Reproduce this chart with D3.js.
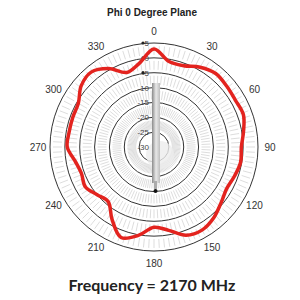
<!DOCTYPE html>
<html>
<head>
<meta charset="utf-8">
<script src="https://cdn.jsdelivr.net/npm/d3@7"></script>
<style>
  body { margin: 0; background: #fff; }
  svg { display: block; font-family: "Liberation Sans", Arial, sans-serif; }
</style>
</head>
<body>
<div id="chart"></div>
<script>
// gain (dB), every 10 degrees, clockwise from top
const angles = d3.range(0, 360, 10);
const gainDb = [
  3.0, -0.8, -0.9, 1.0, 2.3, 1.9, 1.6, 2.0, 0.6,
  -0.6, -0.4, -1.2, -1.8, -0.6, 1.2, 2.3, 1.6, -1.5,
  -3.0, 0.2, 2.4, -1.8, -6.0, -5.0, -3.3, -4.0, -3.0,
  -0.8, -1.0, -0.9, -0.6, 2.0, 2.9, 0.5, -3.3, -1.4
];
const ringValues = [5, 0, -5, -10, -15, -20, -25];
const ringLabels = ["5", "0", "-5", "-10", "-15", "-20", "-25", "-30"];
const angleLabels = d3.range(0, 360, 30);
const title = "Phi 0 Degree Plane";
const caption = "Frequency = 2170 MHz";

const width = 300, height = 300;
const cx = 154, cy = 147;

const svg = d3.select('#chart')
  .append('svg')
  .attr('width', width)
  .attr('height', height);

const r = d3.scaleLinear().domain([-30, 5]).range([0, 104]);
const rad = d => (d - 90) * Math.PI / 180;

const g = svg.append('g').attr('transform', `translate(${cx},${cy})`);

// light radial dashes in every band
const bands = d3.pairs([-30, ...ringValues.slice().reverse()]);
d3.range(0, 360, 3).forEach(a => {
  bands.forEach(([lo, hi]) => {
    const r0 = r(lo) + 3, r1 = r(hi) - 3;
    if (r1 <= r0 || r0 < 8) return;
    g.append('line')
      .attr('x1', r0 * Math.cos(rad(a))).attr('y1', r0 * Math.sin(rad(a)))
      .attr('x2', r1 * Math.cos(rad(a))).attr('y2', r1 * Math.sin(rad(a)))
      .attr('stroke', '#d4d4d4')
      .attr('stroke-width', 0.8);
  });
});

// rings
g.selectAll('circle.ring')
  .data(ringValues)
  .enter()
  .append('circle')
  .attr('class', 'ring')
  .attr('r', d => r(d))
  .attr('fill', 'none')
  .attr('stroke', '#333')
  .attr('stroke-width', 1);

// antenna picture in the middle
const grad = svg.append('defs').append('linearGradient')
  .attr('id', 'rod').attr('x1', '0').attr('x2', '1');
grad.append('stop').attr('offset', '0').attr('stop-color', '#8a8a8a');
grad.append('stop').attr('offset', '0.5').attr('stop-color', '#e8e8e8');
grad.append('stop').attr('offset', '1').attr('stop-color', '#bdbdbd');

g.append('circle').attr('cx', 6).attr('cy', 8).attr('r', 14)
  .attr('fill', '#ececec').attr('opacity', 0.8);
g.append('rect')
  .attr('x', -2).attr('y', -64).attr('width', 8).attr('height', 100)
  .attr('fill', 'url(#rod)');
g.append('rect')
  .attr('x', 0).attr('y', 34).attr('width', 3).attr('height', 8)
  .attr('fill', '#aaa');
g.append('circle').attr('cx', 1.5).attr('cy', 44).attr('r', 2).attr('fill', '#111');

// ring labels along the top axis
g.selectAll('text.rl')
  .data(ringLabels)
  .enter()
  .append('text')
  .attr('class', 'rl')
  .attr('x', -5)
  .attr('y', (d, i) => -r(5 - i * 5) + 3)
  .attr('text-anchor', 'end')
  .attr('font-size', 8)
  .attr('fill', '#444')
  .text(d => d);

g.selectAll('circle.mk')
  .data([5, 0, -5])
  .enter()
  .append('circle')
  .attr('class', 'mk')
  .attr('cx', -11)
  .attr('cy', d => -r(d))
  .attr('r', 1.6)
  .attr('fill', '#222');

// angle labels
g.selectAll('text.al')
  .data(angleLabels)
  .enter()
  .append('text')
  .attr('class', 'al')
  .attr('x', d => 116 * Math.cos(rad(d)))
  .attr('y', d => 116 * Math.sin(rad(d)) + 3.5)
  .attr('text-anchor', 'middle')
  .attr('font-size', 10)
  .attr('fill', '#333')
  .text(d => d);

// pattern trace
const line = d3.lineRadial()
  .angle(d => d[0] * Math.PI / 180)
  .radius(d => r(d[1]))
  .curve(d3.curveCatmullRomClosed.alpha(0.5));

g.append('path')
  .datum(angles.map((a, i) => [a, gainDb[i]]))
  .attr('d', line)
  .attr('fill', 'none')
  .attr('stroke', '#e3231e')
  .attr('stroke-width', 3.5)
  .attr('stroke-linejoin', 'round');

svg.append('text')
  .attr('x', 152).attr('y', 16)
  .attr('text-anchor', 'middle')
  .attr('font-size', 10)
  .attr('font-weight', 'bold')
  .attr('fill', '#222')
  .text(title);

svg.append('text')
  .attr('x', 152).attr('y', 291)
  .attr('text-anchor', 'middle')
  .attr('font-family', 'Lato, "Open Sans", sans-serif')
  .attr('font-size', 16)
  .attr('font-weight', 'bold')
  .attr('fill', '#222')
  .text(caption);
</script>
</body>
</html>
